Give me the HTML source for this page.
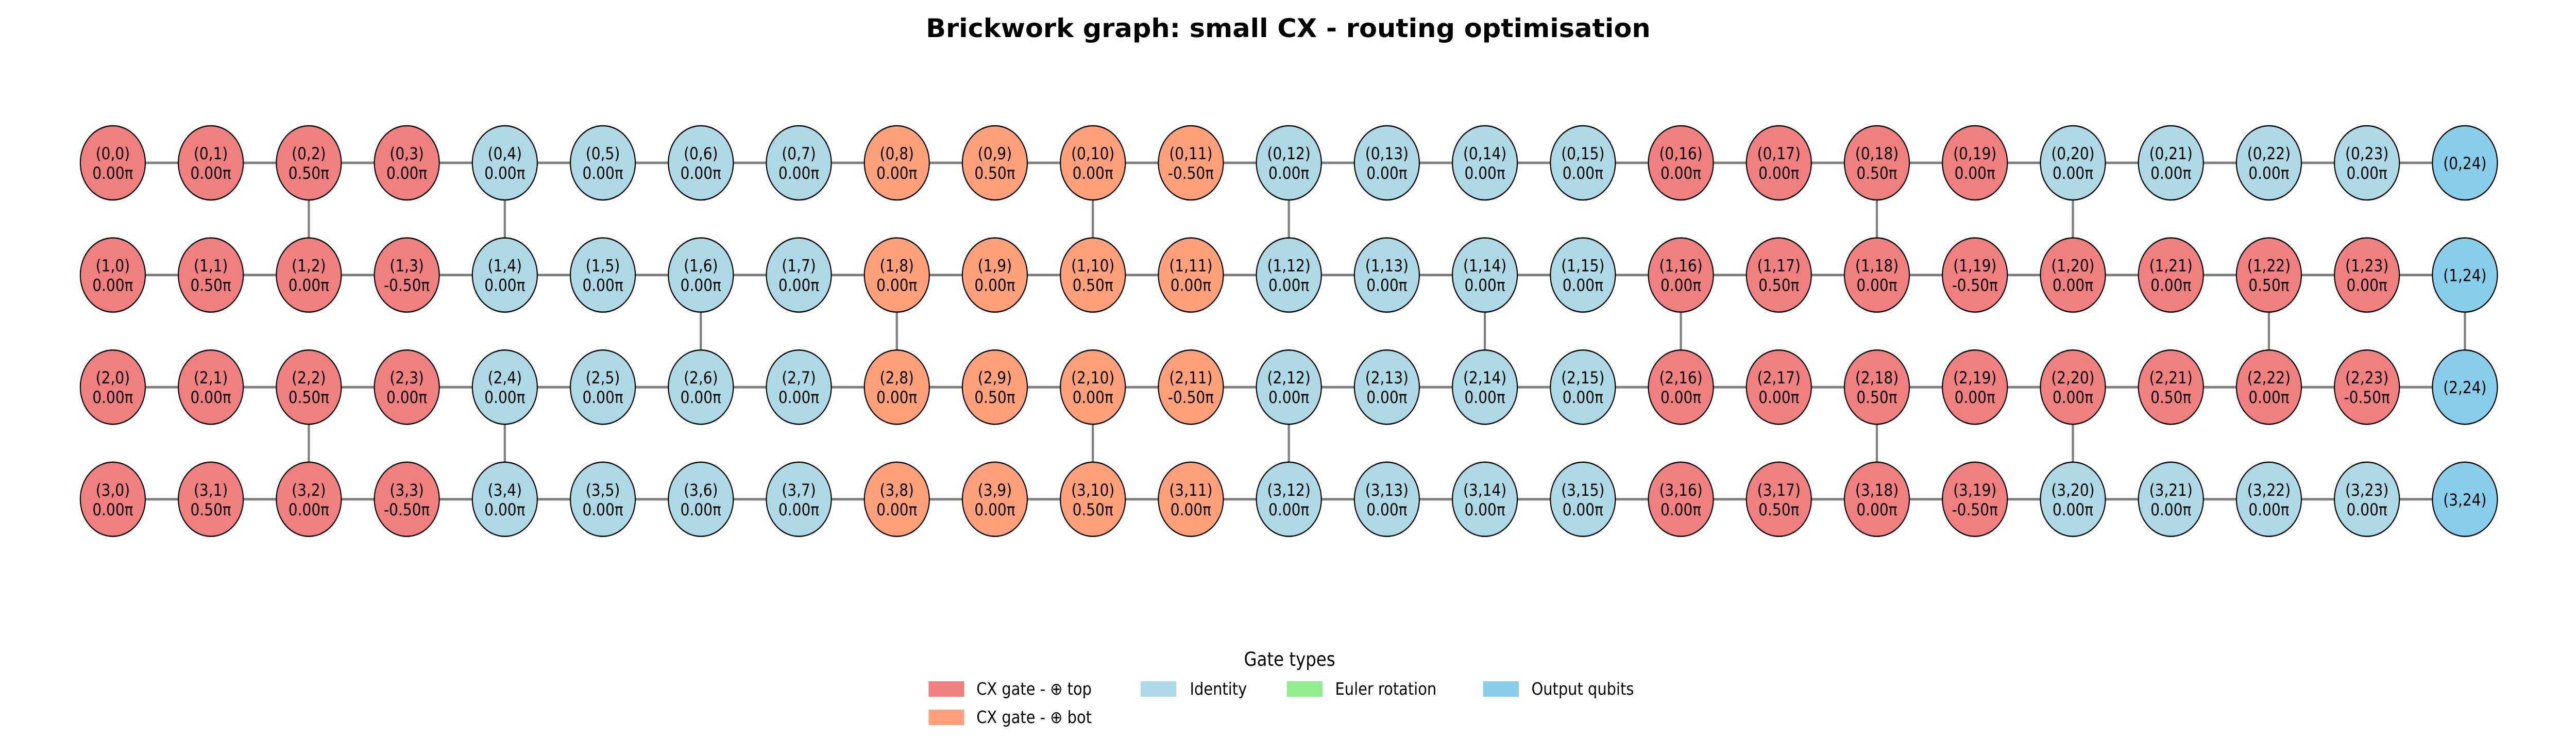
<!DOCTYPE html>
<html><head><meta charset="utf-8"><style>
html,body{margin:0;padding:0;background:#fff;overflow:hidden;width:100%;height:100%;}
svg{display:block;width:100vw;height:100vh;font-family:"DejaVu Sans","Liberation Sans",sans-serif;}
</style></head><body>
<svg id="chart" viewBox="0 0 5709 1465" preserveAspectRatio="none" xmlns="http://www.w3.org/2000/svg">
<rect width="5709" height="1465" fill="#fff"/>
<text x="2855" y="72" text-anchor="middle" font-size="50" font-weight="bold" textLength="1606" lengthAdjust="spacingAndGlyphs">Brickwork graph: small CX - routing optimisation</text>
<g id="edges"></g>
<g id="nodes"></g>
<g font-size="33">
<text x="2858" y="1292" text-anchor="middle" font-size="37">Gate types</text>
<g><rect x="2058" y="1322" width="79" height="30" fill="#f08080"/><text x="2164" y="1348">CX gate - ⊕ top</text></g>
<g><rect x="2528" y="1322" width="79" height="30" fill="#add8e6"/><text x="2637" y="1348">Identity</text></g>
<g><rect x="2852" y="1322" width="79" height="30" fill="#90ee90"/><text x="2959" y="1348">Euler rotation</text></g>
<g><rect x="3287" y="1322" width="79" height="30" fill="#87ceeb"/><text x="3394" y="1348">Output qubits</text></g>
<g><rect x="2058" y="1377" width="79" height="30" fill="#ffa07a"/><text x="2164" y="1403">CX gate - ⊕ bot</text></g>
</g>
</svg>
<script>
const rowTypes = [
 "rrrriiiiooooiiiirrrriiiis",
 "rrrriiiiooooiiiirrrrrrrrs",
 "rrrriiiiooooiiiirrrrrrrrs",
 "rrrriiiiooooiiiirrrriiiis"
];
const angles0 = [0,0,0.5,0, 0,0,0,0, 0,0.5,0,-0.5, 0,0,0,0, 0,0,0.5,0, 0,0,0,0];
const angles1 = [0,0.5,0,-0.5, 0,0,0,0, 0,0,0.5,0, 0,0,0,0, 0,0.5,0,-0.5, 0,0,0.5,0];
const angles2 = [0,0,0.5,0, 0,0,0,0, 0,0.5,0,-0.5, 0,0,0,0, 0,0,0.5,0, 0,0.5,0,-0.5];
const angles3 = [0,0.5,0,-0.5, 0,0,0,0, 0,0,0.5,0, 0,0,0,0, 0,0.5,0,-0.5, 0,0,0,0];
const verticalEdges = [[2,0],[2,2],[4,0],[4,2],[6,1],[8,1],[10,0],[10,2],[12,0],[12,2],[14,1],[16,1],[18,0],[18,2],[20,0],[20,2],[22,1],[24,1]];
const nCols = 25, nRows = 4;
</script>
<script>
(function(){
const NS="http://www.w3.org/2000/svg";
const angles=[angles0,angles1,angles2,angles3];
const colors={r:"#f08080",o:"#ffa07a",i:"#add8e6",s:"#87ceeb"};
const X=c=>250+c*217.2, Y=r=>316+r*217.6, R=72;
const eg=document.getElementById('edges'), ng=document.getElementById('nodes');
function line(x1,y1,x2,y2){const l=document.createElementNS(NS,'line');
l.setAttribute('x1',x1);l.setAttribute('y1',y1);l.setAttribute('x2',x2);l.setAttribute('y2',y2);
l.setAttribute('stroke','#808080');l.setAttribute('stroke-width','5');


eg.appendChild(l);}
for(let r=0;r<nRows;r++)for(let c=0;c<nCols-1;c++)line(X(c),Y(r),X(c+1),Y(r));
verticalEdges.forEach(e=>line(X(e[0]),Y(e[1]),X(e[0]),Y(e[1]+1)));
for(let r=0;r<nRows;r++){
 const types=rowTypes[r];
 for(let c=0;c<nCols;c++){
  const t=types[c]||'s';
  const g=document.createElementNS(NS,'g');
  
  
  const ci=document.createElementNS(NS,'circle');
  ci.setAttribute('cx',X(c));ci.setAttribute('cy',Y(r));ci.setAttribute('r',R);
  ci.setAttribute('fill',colors[t]);ci.setAttribute('stroke','#000');ci.setAttribute('stroke-width','2.5');
  g.appendChild(ci);
  const lab=document.createElementNS(NS,'text');
  lab.setAttribute('x',X(c));lab.setAttribute('text-anchor','middle');lab.setAttribute('font-size','32');
  if(c<nCols-1){
   lab.setAttribute('y',Y(r)-7);lab.textContent='('+r+','+c+')';
   const v=document.createElementNS(NS,'text');
   v.setAttribute('x',X(c));v.setAttribute('y',Y(r)+31);v.setAttribute('text-anchor','middle');v.setAttribute('font-size','32');
   v.textContent=angles[r][c].toFixed(2)+'π';
   g.appendChild(lab);g.appendChild(v);
  } else {
   lab.setAttribute('y',Y(r)+12);lab.textContent='('+r+','+c+')';g.appendChild(lab);
  }
  ng.appendChild(g);
 }
}
})();
</script>
</body></html>
